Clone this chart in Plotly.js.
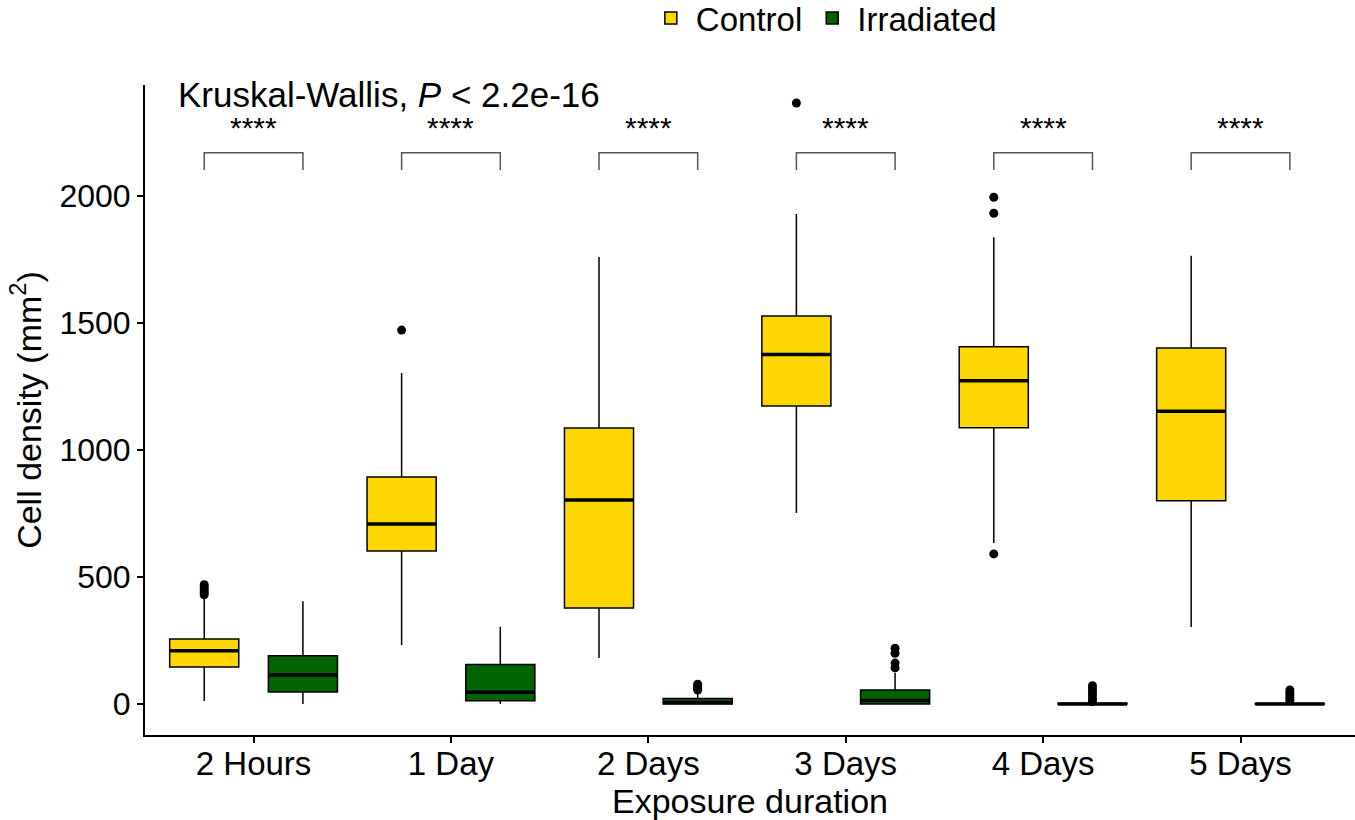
<!DOCTYPE html>
<html>
<head>
<meta charset="utf-8">
<script src="https://cdn.plot.ly/plotly-3.0.1.min.js"></script>
<style>
  body { margin: 0; background: #fff; }
  #chart { width: 1355px; height: 820px; }
</style>
</head>
<body>
<div id="chart"></div>
<script>
// exposure groups on the x axis
var durations = ['2 Hours', '1 Day', '2 Days', '3 Days', '4 Days', '5 Days'];

// Control box stats
var ctrl_q1 = [146, 602, 378, 1173, 1088, 800];
var ctrl_median = [210, 709, 803, 1376, 1273, 1153];
var ctrl_q3 = [256, 894, 1087, 1528, 1407, 1402];
var ctrl_low = [12, 232, 181, 752, 634, 303];
var ctrl_high = [420, 1303, 1760, 1929, 1838, 1765];
var ctrl_outliers = [[430, 440, 450, 460, 470], [1472], [], [2366], [591, 1932, 1995], []];

// Irradiated box stats
var irr_q1 = [47, 13, 0, 0, 0, 0];
var irr_median = [114, 46, 6, 14, 0, 0];
var irr_q3 = [190, 156, 22, 55, 3, 2];
var irr_low = [0, 0, 0, 0, 0, 0];
var irr_high = [405, 304, 45, 122, 5, 4];
var irr_outliers = [[], [], [55, 62, 70, 78], [142, 161, 200, 220], [10, 22, 35, 48, 60, 72], [15, 25, 35, 45, 55]];

var signif = ['****', '****', '****', '****', '****', '****'];

var font_family = '"Liberation Sans", Arial, sans-serif';

function box_trace(name, group, color, q1, med, q3, lo, hi, outl) {
    // outliers go in as a 2D y array, one list per box
    // (empty lists get the median so the trace stays valid; it is inside the box so not drawn)
    var pts = outl.map(function (o, i) { return o.length ? o : [med[i]]; });
    return {
        type: 'box',
        name: name,
        offsetgroup: group,
        x: durations,
        q1: q1,
        median: med,
        q3: q3,
        lowerfence: lo,
        upperfence: hi,
        y: pts,
        boxpoints: 'outliers',
        jitter: 0,
        pointpos: 0,
        whiskerwidth: 0,
        fillcolor: color,
        line: { color: '#000', width: 1.5 },
        marker: { color: '#000', size: 9, outliercolor: '#000', line: { width: 0 } },
        hoverinfo: 'skip'
    };
}

// ggplot draws the median thicker: a flat box sitting on the median
function median_trace(group, med) {
    return {
        type: 'box',
        name: group + ' median',
        offsetgroup: group,
        showlegend: false,
        x: durations,
        q1: med, median: med, q3: med,
        lowerfence: med, upperfence: med,
        boxpoints: false,
        whiskerwidth: 0,
        fillcolor: 'rgba(0,0,0,0)',
        line: { color: '#000', width: 3.5 },
        hoverinfo: 'skip'
    };
}

var data = [
    box_trace('Control', 'ctrl', '#FFD700', ctrl_q1, ctrl_median, ctrl_q3, ctrl_low, ctrl_high, ctrl_outliers),
    box_trace('Irradiated', 'irr', '#006400', irr_q1, irr_median, irr_q3, irr_low, irr_high, irr_outliers),
    median_trace('ctrl', ctrl_median),
    median_trace('irr', irr_median)
];

// brackets + stars over each pair
var shapes = [];
var annotations = [];
for (let i = 0; i < durations.length; i++) {
    shapes.push({
        type: 'path',
        xref: 'x', yref: 'y',
        path: 'M ' + (i - 0.25) + ',2102 L ' + (i - 0.25) + ',2170 L ' + (i + 0.25) + ',2170 L ' + (i + 0.25) + ',2102',
        line: { color: '#555', width: 1.5 }
    });
    annotations.push({
        x: i, y: 2268, xref: 'x', yref: 'y',
        text: signif[i], showarrow: false,
        yanchor: 'middle',
        font: { family: font_family, size: 30, color: '#000' }
    });
}
annotations.push({
    x: 0.026, y: 0.985, xref: 'paper', yref: 'paper',
    xanchor: 'left', yanchor: 'middle',
    text: 'Kruskal-Wallis, <i>P</i> &lt; 2.2e-16', showarrow: false,
    font: { family: font_family, size: 35, color: '#000' }
});

var layout = {
    width: 1355,
    height: 820,
    margin: { l: 145, r: 0, t: 85, b: 85 },
    paper_bgcolor: '#fff',
    plot_bgcolor: '#fff',
    font: { family: font_family, color: '#000' },
    boxmode: 'group',
    boxgap: 0,
    boxgroupgap: 0.3,
    showlegend: true,
    legend: {
        orientation: 'h',
        xref: 'container', yref: 'container',
        x: 0.608, y: 0.978, xanchor: 'center', yanchor: 'middle',
        itemwidth: 40,
        font: { family: font_family, size: 33, color: '#000' }
    },
    xaxis: {
        type: 'category',
        range: [-0.55, 5.58],
        showline: true, linecolor: '#000', linewidth: 2,
        ticks: 'outside', ticklen: 6, tickcolor: '#000', tickwidth: 2,
        ticklabelstandoff: -8,
        showgrid: false, zeroline: false,
        tickfont: { family: font_family, size: 33, color: '#000' },
        title: { text: 'Exposure duration', font: { family: font_family, size: 34, color: '#000' }, standoff: 2 }
    },
    yaxis: {
        range: [-122, 2437],
        tickvals: [0, 500, 1000, 1500, 2000],
        showline: true, linecolor: '#000', linewidth: 2,
        ticks: 'outside', ticklen: 6, tickcolor: '#000', tickwidth: 2,
        showgrid: false, zeroline: false,
        tickfont: { family: font_family, size: 32, color: '#000' },
        title: { text: 'Cell density (mm<sup>2</sup>)', font: { family: font_family, size: 34, color: '#000' }, standoff: 8 }
    },
    shapes: shapes,
    annotations: annotations
};

Plotly.newPlot('chart', data, layout, { staticPlot: true, responsive: false });
</script>
</body>
</html>
